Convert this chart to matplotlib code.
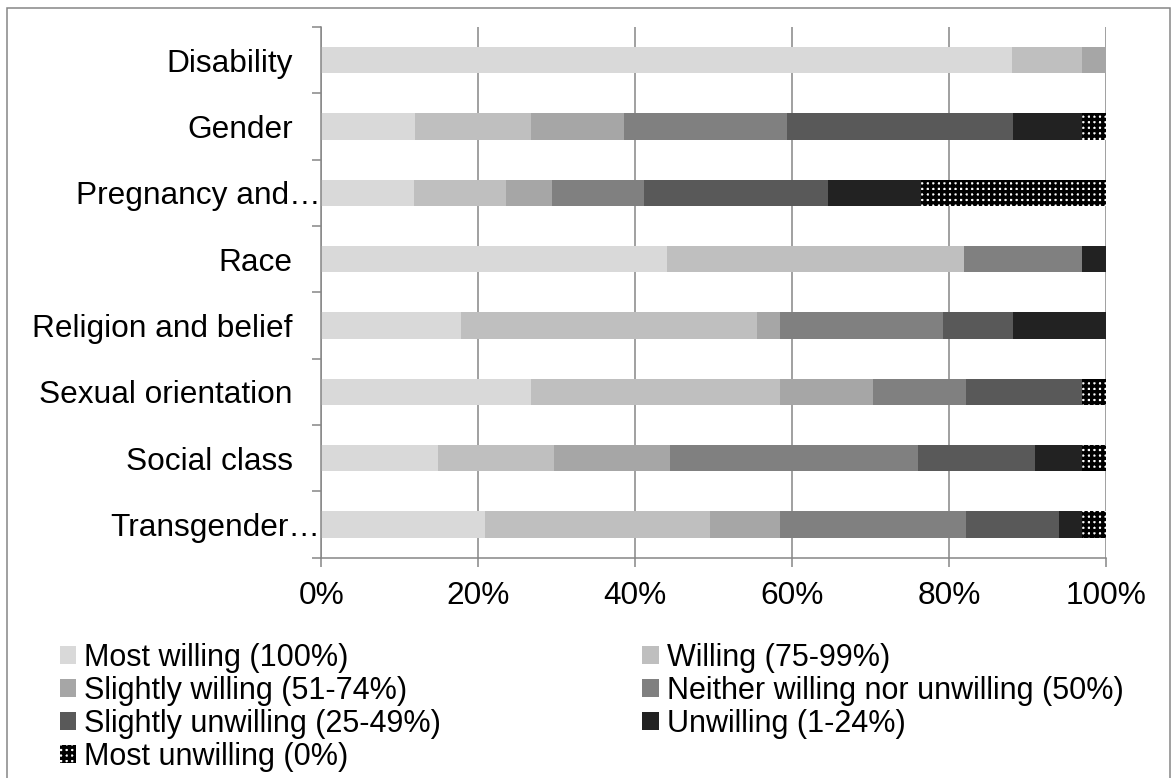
import matplotlib
matplotlib.use("Agg")
import matplotlib.pyplot as plt
import numpy as np
from matplotlib.patches import Rectangle
from matplotlib import transforms

plt.rcParams['font.family'] = ['Liberation Sans', 'DejaVu Sans']
plt.rcParams['hatch.linewidth'] = 2.4

categories = ["Disability", "Gender", "Pregnancy and\u2026", "Race",
              "Religion and belief", "Sexual orientation", "Social class",
              "Transgender\u2026"]
truncated = ["Pregnancy and\u2026", "Transgender\u2026"]

series_names = ["Most willing (100%)", "Willing (75-99%)",
                "Slightly willing (51-74%)", "Neither willing nor unwilling (50%)",
                "Slightly unwilling (25-49%)", "Unwilling (1-24%)",
                "Most unwilling (0%)"]

most_willing       = [88.0, 11.9, 11.8, 44.0, 17.8, 26.7, 14.9, 20.8]
willing            = [9.0, 14.8, 11.7, 37.9, 37.7, 31.7, 14.8, 28.7]
slightly_willing   = [3.0, 11.9, 5.9, 0.0, 2.9, 11.9, 14.8, 8.9]
neither            = [0.0, 20.8, 11.7, 15.0, 20.8, 11.8, 31.6, 23.7]
slightly_unwilling = [0.0, 28.7, 23.5, 0.0, 8.9, 14.8, 14.9, 11.9]
unwilling          = [0.0, 8.8, 11.8, 3.1, 11.9, 0.0, 5.9, 2.9]
most_unwilling     = [0.0, 3.1, 23.6, 0.0, 0.0, 3.1, 3.1, 3.1]

x_ticks = [0, 20, 40, 60, 80, 100]
x_tick_labels = ["0%", "20%", "40%", "60%", "80%", "100%"]

series = [most_willing, willing, slightly_willing, neither,
          slightly_unwilling, unwilling, most_unwilling]
colors = ["#D9D9D9", "#BFBFBF", "#A6A6A6", "#808080", "#595959", "#222222", "white"]
hatches = [None, None, None, None, None, None, "+++"]

W, H = 1176, 778
fig = plt.figure(figsize=(W / 100, H / 100), dpi=100)
ax = fig.add_axes([321.3 / W, 1 - 557.7 / H, (1106.0 - 321.3) / W, (557.7 - 27.0) / H])

grey = "#868686"
y = np.arange(len(categories))
left = np.zeros(len(categories))
handles = []
for vals, col, hat, name in zip(series, colors, hatches, series_names):
    vals = np.array(vals)
    if hat:
        b = ax.barh(y, vals, left=left, height=0.4, color=col, edgecolor="black",
                    hatch=hat, linewidth=0, label=name, zorder=2)
    else:
        b = ax.barh(y, vals, left=left, height=0.4, color=col, linewidth=0,
                    label=name, zorder=2)
    handles.append(b)
    left = left + vals

ax.set_xlim(0, 100)
ax.set_ylim(len(categories) - 0.5, -0.5)
ax.set_xticks(x_ticks)
ax.set_xticklabels(x_tick_labels, fontsize=22.8)
ax.tick_params(axis="x", length=6.5, width=1.1, color=grey, pad=10.5, direction="out")
ax.set_yticks(np.arange(len(categories) + 1) - 0.5)
ax.set_yticklabels([])
ax.tick_params(axis="y", length=6.5, width=1.1, color=grey, direction="out")
ax.grid(axis="x", color=grey, linewidth=1.1, zorder=0)
ax.set_axisbelow(True)
for s in ["top", "right"]:
    ax.spines[s].set_visible(False)
for s in ["left", "bottom"]:
    ax.spines[s].set_color(grey)
    ax.spines[s].set_linewidth(1.1)

# category labels
for i, c in enumerate(categories):
    off = -1.0 if c in truncated else -28.6
    tr = transforms.offset_copy(ax.get_yaxis_transform(), fig=fig, x=off * 0.72, y=0, units="points")
    ax.text(0, i, c, transform=tr, ha="right", va="center_baseline", fontsize=22.8, clip_on=False)

# legend (row-major order)
order = [0, 2, 4, 6, 1, 3, 5]
leg = fig.legend([handles[k] for k in order], [series_names[k] for k in order],
                 ncol=2, loc="upper left", bbox_to_anchor=(59.5 / W, 1 - 643.0 / H),
                 frameon=False, fontsize=22.0, handlelength=0.55, handleheight=0.55,
                 handletextpad=0.26, columnspacing=6.57, labelspacing=0.095,
                 borderpad=0, borderaxespad=0)

# outer chart border
fig.patches.append(Rectangle((6.5 / W, -0.05), (1169.5 - 6.5) / W, 1.05 - 8.3 / H,
                             transform=fig.transFigure, fill=False, edgecolor=grey,
                             linewidth=1.1, zorder=0))

fig.savefig("out.png", dpi=100)
